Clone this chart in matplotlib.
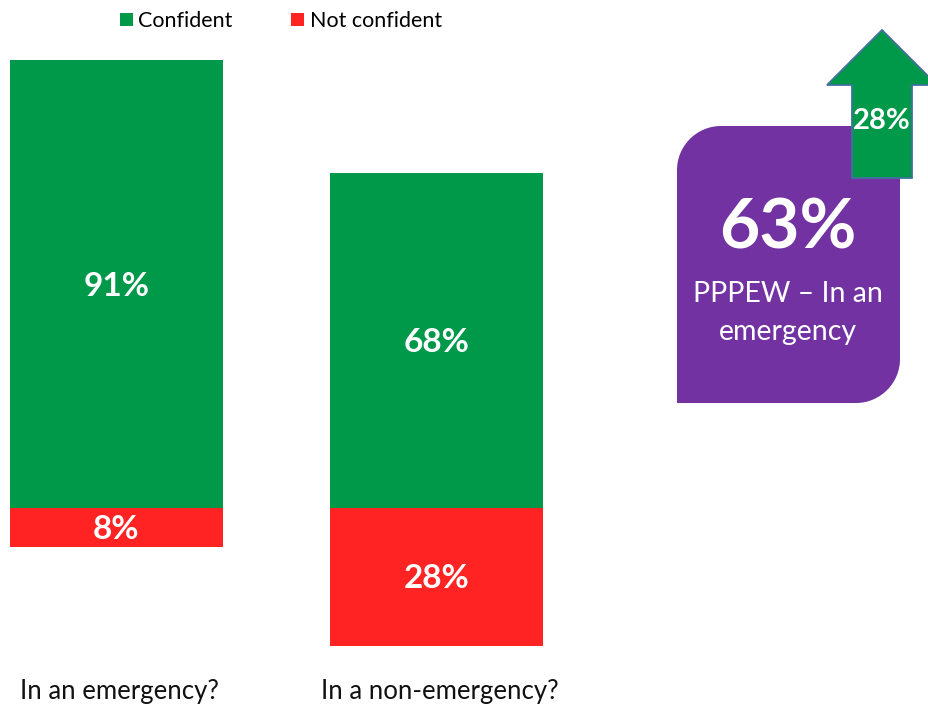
import matplotlib
matplotlib.use("Agg")
import matplotlib.pyplot as plt
from matplotlib.path import Path
from matplotlib.patches import PathPatch, Polygon
import numpy as np

plt.rcParams['font.family'] = ['Lato', 'DejaVu Sans']

# data
categories = ['In an emergency?', 'In a non-emergency?']
confident = [91, 68]
not_confident = [8, 28]
series_names = ['Confident', 'Not confident']
highlight_value = '63%'
highlight_text = 'PPPEW \u2013 In an\nemergency'
change_value = '28%'

green = '#00994A'
red = '#FF2323'
purple = '#7232A2'

fig = plt.figure(figsize=(9.29, 7.06), dpi=100)
ax = fig.add_axes([0, 0, 1, 1])

x = np.arange(len(categories))
b1 = ax.bar(x, confident, width=0.666, color=green, label=series_names[0])
b2 = ax.bar(x, [-v for v in not_confident], width=0.666, color=red, label=series_names[1])

for rect, v in zip(b1, confident):
    ax.text(rect.get_x() + rect.get_width() / 2, v / 2 - 0.4, f'{v}%', ha='center', va='center',
            color='white', fontsize=24, fontweight='bold')
for rect, v in zip(b2, not_confident):
    ax.text(rect.get_x() + rect.get_width() / 2, -v / 2 - 0.4, f'{v}%', ha='center', va='center',
            color='white', fontsize=24, fontweight='bold')

for xi, c in zip(x, categories):
    ax.text(xi + 0.01, -37.2, c, ha='center', va='center', fontsize=18.5, color='#111111')

ax.set_xlim(-116.5 / 320, (929 - 116.5) / 320)
ax.set_ylim(-(706 - 508) / 4.92, 508 / 4.92)
ax.axis('off')

leg = ax.legend(ncol=2, frameon=False, loc='center left', bbox_to_anchor=(111 / 929, 1 - 21 / 706),
                fontsize=15.5, handlelength=0.6, handleheight=0.6, handletextpad=0.25,
                columnspacing=2.75, borderaxespad=0)

# overlay in pixel space for the callout
ov = fig.add_axes([0, 0, 1, 1])
ov.set_xlim(0, 929)
ov.set_ylim(706, 0)
ov.axis('off')
ov.patch.set_alpha(0)

x0, x1, y0, y1, r = 677, 900, 126, 403, 44
k = 0.55
verts = [(x0 + r, y0), (x1, y0), (x1, y1 - r),
         (x1, y1 - r + k * r), (x1 - r + k * r, y1), (x1 - r, y1),
         (x0, y1), (x0, y0 + r),
         (x0, y0 + r - k * r), (x0 + r - k * r, y0), (x0 + r, y0),
         (x0 + r, y0)]
codes = [Path.MOVETO, Path.LINETO, Path.LINETO,
         Path.CURVE4, Path.CURVE4, Path.CURVE4,
         Path.LINETO, Path.LINETO,
         Path.CURVE4, Path.CURVE4, Path.CURVE4,
         Path.CLOSEPOLY]
ov.add_patch(PathPatch(Path(verts, codes), facecolor=purple, edgecolor='none'))
ov.text(788, 229, highlight_value, ha='center', va='center', color='white', fontsize=50, fontweight='bold')
ov.text(788, 313, highlight_text, ha='center', va='center', color='white', fontsize=20.5, linespacing=1.55)

arrow = [(852, 178), (852, 85), (827, 85), (882, 30), (937, 85), (912, 85), (912, 178)]
ov.add_patch(Polygon(arrow, closed=True, facecolor=green, edgecolor='#41719C', linewidth=1.3))
ov.text(882, 121, change_value, ha='center', va='center', color='white', fontsize=21, fontweight='bold')

fig.savefig('out.png', dpi=100)
